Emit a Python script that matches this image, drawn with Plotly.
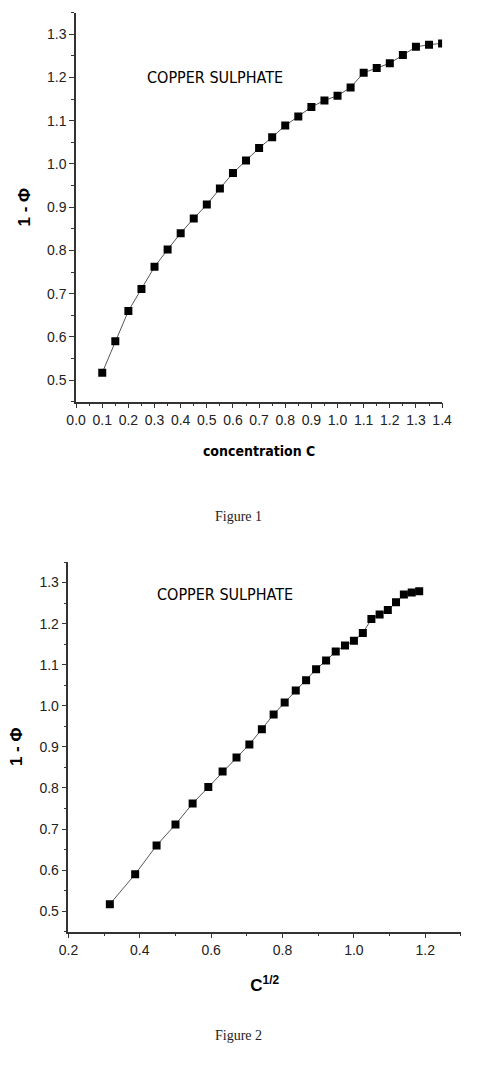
import plotly.graph_objects as go

# Figure 1 data: concentration C vs 1 - Phi
conc = [0.10, 0.15, 0.20, 0.25, 0.30, 0.35, 0.40, 0.45, 0.50, 0.55, 0.60, 0.65, 0.70, 0.75,
        0.80, 0.85, 0.90, 0.95, 1.00, 1.05, 1.10, 1.15, 1.20, 1.25, 1.30, 1.35, 1.40]
one_minus_phi = [0.517, 0.590, 0.660, 0.711, 0.762, 0.802, 0.840, 0.874, 0.906, 0.943, 0.979,
                 1.008, 1.037, 1.062, 1.089, 1.110, 1.132, 1.147, 1.158, 1.177, 1.211, 1.222,
                 1.233, 1.252, 1.271, 1.276, 1.279]
# Figure 2 data: C^(1/2)
sqrt_conc = [0.316, 0.387, 0.447, 0.500, 0.548, 0.592, 0.632, 0.671, 0.707, 0.742, 0.775,
             0.806, 0.837, 0.866, 0.894, 0.922, 0.949, 0.975, 1.000, 1.025, 1.049, 1.072,
             1.095, 1.118, 1.140, 1.162, 1.183]

W, H = 477, 1092
SANS = "Liberation Sans, Arial, sans-serif"
NARROW = "DejaVu Sans Condensed, Liberation Sans Narrow, Liberation Sans, Arial, sans-serif"
SERIF = "Liberation Serif, Times New Roman, serif"
AXC = "#333333"

line_style = dict(color="#555555", width=1)
marker_style = dict(symbol="square", size=8, color="black")

fig = go.Figure()
fig.add_trace(go.Scatter(x=conc, y=one_minus_phi, mode="lines+markers", line=line_style,
                         marker=marker_style, xaxis="x", yaxis="y", showlegend=False))
fig.add_trace(go.Scatter(x=sqrt_conc, y=one_minus_phi, mode="lines+markers", line=line_style,
                         marker=marker_style, xaxis="x2", yaxis="y2", showlegend=False))

def px_x(p):
    return p / W

def px_y(p):
    return 1 - p / H

common = dict(showline=True, linecolor=AXC, linewidth=1.5, ticks="outside", ticklen=5,
              tickwidth=1, tickcolor=AXC, showgrid=False, zeroline=False,
              tickfont=dict(family=SANS, size=14, color="#222222"), tickformat=".1f")

fig.update_layout(
    width=W, height=H, margin=dict(l=0, r=0, t=0, b=0),
    paper_bgcolor="white", plot_bgcolor="white",
    xaxis=dict(domain=[px_x(69), px_x(451)], anchor="y", range=[0, 1.4], dtick=0.1, tick0=0,
               minor=dict(ticks="outside", dtick=0.05, ticklen=3, tickcolor=AXC),
               title=dict(text="concentration C", standoff=19,
                          font=dict(family=NARROW, size=14, color="black", weight="bold")),
               **common),
    yaxis=dict(domain=[px_y(401.7), px_y(12.7)], anchor="x", range=[0.45, 1.35], dtick=0.1, tick0=0.5,
               minor=dict(ticks="outside", dtick=0.05, ticklen=3, tickcolor=AXC),
               title=dict(text="1 - Φ", standoff=12,
                          font=dict(family=SANS, size=17, color="black", weight="bold")),
               **common),
    xaxis2=dict(domain=[px_x(61), px_x(470.7)], anchor="y2", range=[0.2, 1.3], dtick=0.2, tick0=0.2,
                minor=dict(ticks="outside", dtick=0.1, ticklen=3, tickcolor=AXC),
                title=dict(text="C<sup>1/2</sup>", standoff=22,
                           font=dict(family=SANS, size=17, color="black", weight="bold")),
                **common),
    yaxis2=dict(domain=[px_y(931.7), px_y(562)], anchor="x2", range=[0.45, 1.35], dtick=0.1, tick0=0.5,
                minor=dict(ticks="outside", dtick=0.05, ticklen=3, tickcolor=AXC),
                title=dict(text="1 - Φ", standoff=12,
                           font=dict(family=SANS, size=17, color="black", weight="bold")),
                **common),
)

fig.add_annotation(x=0.53, y=1.2, xref="x", yref="y", text="COPPER SULPHATE", showarrow=False,
                   font=dict(family=NARROW, size=16, color="black"))
fig.add_annotation(x=0.64, y=1.27, xref="x2", yref="y2", text="COPPER SULPHATE", showarrow=False,
                   font=dict(family=NARROW, size=16, color="black"))
fig.add_annotation(x=0.499, y=px_y(516.7), xref="paper", yref="paper", text="Figure 1", showarrow=False,
                   font=dict(family=SERIF, size=14, color="#222222"))
fig.add_annotation(x=0.501, y=px_y(1045), xref="paper", yref="paper", text="Figure 2", showarrow=False,
                   font=dict(family=SERIF, size=14, color="#222222"))

fig.write_html("out.html")
